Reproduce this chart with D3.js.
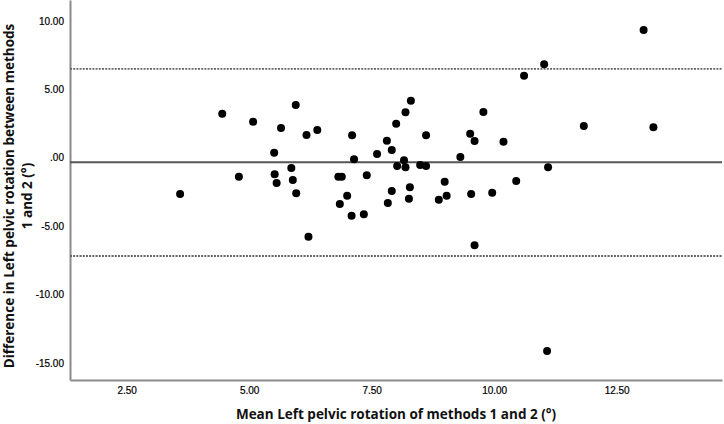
<!DOCTYPE html>
<html>
<head>
<meta charset="utf-8">
<script src="https://cdn.jsdelivr.net/npm/d3@7"></script>
<style>
  body { margin: 0; background: #fff; }
  svg { display: block; }
</style>
</head>
<body>
<div id="chart"></div>
<script>
// mean of methods 1 and 2 (x) and difference (y)
var meanVals = [
    3.59, 4.45, 4.79, 5.08, 5.51, 5.52, 5.56, 5.65, 5.86, 5.89,
    5.95, 5.96, 6.17, 6.21, 6.39,
    8.30, 8.19, 9.78, 8.00, 7.10, 8.61, 9.51, 9.60, 7.81, 7.91,
    7.61, 7.14, 8.16, 8.02, 8.19, 8.49, 8.61, 9.31, 6.82, 6.89,
    7.40, 8.99, 10.45, 7.00, 6.85, 7.91, 8.28, 8.26, 7.83, 8.87,
    9.03, 9.53, 9.96, 7.09, 7.34, 9.60,
    13.05, 11.02, 10.61, 11.83, 13.25, 10.19, 11.10, 11.08
];
var diffVals = [
    -2.65, 3.22, -1.38, 2.64, 0.37, -1.21, -1.84, 2.18, -0.75, -1.62,
    3.86, -2.60, 1.67, -5.77, 2.03,
    4.17, 3.33, 3.35, 2.49, 1.64, 1.64, 1.76, 1.23, 1.25, 0.57,
    0.28, -0.11, -0.18, -0.60, -0.69, -0.53, -0.60, 0.06, -1.38, -1.38,
    -1.28, -1.75, -1.70, -2.77, -3.38, -2.43, -2.16, -2.99, -3.30, -3.06,
    -2.77, -2.65, -2.55, -4.23, -4.13, -6.40,
    9.34, 6.83, 6.00, 2.32, 2.23, 1.18, -0.69, -14.12
];

// mean difference and limits of agreement
var meanDiff = -0.33;
var upperLoA = 6.49;
var lowerLoA = -7.18;

var xTicks = [2.5, 5, 7.5, 10, 12.5];
var xTickLabels = ["2.50", "5.00", "7.50", "10.00", "12.50"];
var yTicks = [10, 5, 0, -5, -10, -15];
var yTickLabels = ["10.00", "5.00", ".00", "-5.00", "-10.00", "-15.00"];

var width = 724, height = 424;
var margin = {top: 0, right: 2, bottom: 44, left: 70};
var plotW = width - margin.left - margin.right;
var plotH = height - margin.top - margin.bottom;

var xScale = d3.scaleLinear().domain([1.343, 14.65]).range([0, plotW]);
var yScale = d3.scaleLinear().domain([-16.24, 11.53]).range([plotH, 0]);

var svg = d3.select("#chart").append("svg")
    .attr("width", width)
    .attr("height", height);

var g = svg.append("g")
    .attr("transform", "translate(" + margin.left + "," + margin.top + ")");

// axes
var xAxis = g.append("g")
    .attr("transform", "translate(0," + plotH + ")")
    .call(d3.axisBottom(xScale).tickValues(xTicks).tickSize(0).tickPadding(7)
        .tickFormat(function(d, i) { return xTickLabels[i]; }));
var yAxis = g.append("g")
    .call(d3.axisLeft(yScale).tickValues(yTicks).tickSize(0).tickPadding(6)
        .tickFormat(function(d, i) { return yTickLabels[i]; }));

[xAxis, yAxis].forEach(function(ax) {
    ax.select(".domain").attr("stroke", "#8a8a8a").attr("stroke-width", 2);
    ax.selectAll("text")
        .style("font-family", "'Liberation Sans', Arial, sans-serif")
        .style("font-size", "10px")
        .attr("fill", "#000")
        .attr("stroke", "#000")
        .attr("stroke-width", 0.2);
});

// reference lines
g.append("line")
    .attr("x1", 0).attr("x2", plotW)
    .attr("y1", yScale(meanDiff)).attr("y2", yScale(meanDiff))
    .attr("stroke", "#555").attr("stroke-width", 2);

[upperLoA, lowerLoA].forEach(function(v) {
    g.append("line")
        .attr("x1", 0).attr("x2", plotW)
        .attr("y1", yScale(v)).attr("y2", yScale(v))
        .attr("stroke", "#666").attr("stroke-width", 1.8)
        .attr("stroke-dasharray", "2,1.2");
});

// points
g.selectAll("circle.pt")
    .data(meanVals)
    .enter().append("circle")
    .attr("class", "pt")
    .attr("cx", function(d) { return xScale(d); })
    .attr("cy", function(d, i) { return yScale(diffVals[i]); })
    .attr("r", 4)
    .attr("fill", "#000");

// axis titles
svg.append("text")
    .attr("x", margin.left + plotW / 2)
    .attr("y", 419)
    .attr("text-anchor", "middle")
    .style("font-family", "'Open Sans', sans-serif")
    .style("font-weight", "bold")
    .style("font-size", "13.5px")
    .attr("fill", "#111")
    .text("Mean Left pelvic rotation of methods 1 and 2 (°)");

var yTitle = svg.append("text")
    .attr("transform", "translate(0,196) rotate(-90)")
    .attr("text-anchor", "middle")
    .style("font-family", "'Open Sans', sans-serif")
    .style("font-weight", "bold")
    .style("font-size", "13.5px")
    .attr("fill", "#111");
yTitle.append("tspan").attr("x", 0).attr("y", 13.5)
    .text("Difference in Left pelvic rotation between methods");
yTitle.append("tspan").attr("x", 0).attr("y", 32)
    .text("1 and 2 (°)");
</script>
</body>
</html>
